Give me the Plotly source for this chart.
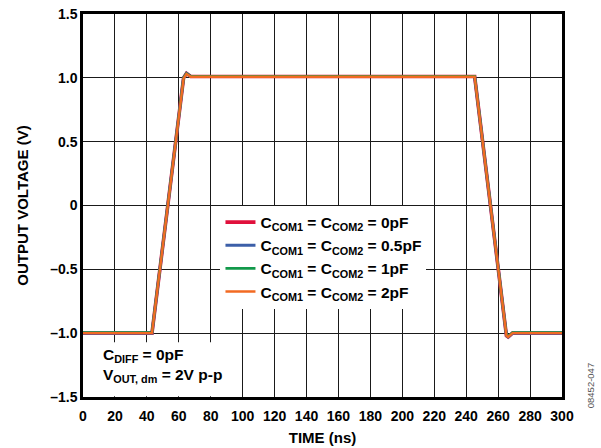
import plotly.graph_objects as go

# time axis (ns) and output voltage (V) for each common-mode capacitance
time_ns = [0, 43.2, 63.0, 64.8, 67.5, 120, 180, 245.3, 265.2, 266.3, 269.0, 300]
v_0pF = [-1.0, -1.0, 1.0, 1.035, 1.01, 1.01, 1.01, 1.01, -1.02, -1.03, -1.0, -1.0]
v_05pF = [-1.0, -1.0, 1.0, 1.034, 1.01, 1.01, 1.01, 1.01, -1.02, -1.03, -1.0, -1.0]
v_1pF = [-0.995, -0.995, 1.0, 1.033, 1.012, 1.012, 1.012, 1.012, -1.015, -1.025, -0.995, -0.995]
v_2pF = [-1.0, -1.0, 0.995, 1.03, 1.008, 1.008, 1.008, 1.008, -1.02, -1.03, -1.0, -1.0]

def sub(s):
    return '<sub>' + s + '</sub>'

series = [
    ('C' + sub('COM1') + ' = C' + sub('COM2') + ' = 0pF', v_0pF, '#e0103c', 3.6),
    ('C' + sub('COM1') + ' = C' + sub('COM2') + ' = 0.5pF', v_05pF, '#3c5fa8', 3.0),
    ('C' + sub('COM1') + ' = C' + sub('COM2') + ' = 1pF', v_1pF, '#12994a', 2.6),
    ('C' + sub('COM1') + ' = C' + sub('COM2') + ' = 2pF', v_2pF, '#f26a22', 2.4),
]

y_ticks = [-1.5, -1.0, -0.5, 0, 0.5, 1.0, 1.5]
y_labels = ['–1.5', '–1.0', '–0.5', '0', '0.5', '1.0', '1.5']
x_ticks = list(range(0, 301, 20))

font = 'Liberation Sans, Arial, sans-serif'

fig = go.Figure()
for name, v, col, w in series:
    fig.add_trace(go.Scatter(x=time_ns, y=v, mode='lines', name=name,
                             line=dict(color=col, width=w)))

# white box behind the condition text
fig.add_shape(type='rect', xref='paper', yref='paper', x0=0.002, x1=0.328,
              y0=0.002, y1=0.143, fillcolor='white', line=dict(width=0), layer='above')
fig.add_annotation(x=0.038, y=0.082, xref='paper', yref='paper', xanchor='left', yanchor='middle',
                   text='C' + sub('DIFF') + ' = 0pF<br>V' + sub('OUT, dm') + ' = 2V p-p',
                   showarrow=False, align='left',
                   font=dict(family=font, size=15.5, color='black', weight='bold'))

fig.add_annotation(x=1.06, y=0.03, xref='paper', yref='paper', xanchor='center', yanchor='middle',
                   text='08452-047', textangle=-90, showarrow=False,
                   font=dict(family=font, size=9.5, color='#555555'))

axis_common = dict(showgrid=True, gridcolor='#1a1a1a', gridwidth=1.3,
                   showline=True, linecolor='black', linewidth=2.5, mirror=True,
                   ticks='', zeroline=False, automargin=False,
                   tickfont=dict(family=font, size=14, color='black', weight='bold'))

fig.update_xaxes(range=[0, 300], tickvals=x_ticks, ticklabelstandoff=4,
                 title=dict(text='TIME (ns)', standoff=10,
                            font=dict(family=font, size=15, color='black', weight='bold')),
                 **axis_common)
fig.update_yaxes(range=[-1.5, 1.5], tickvals=y_ticks, ticktext=y_labels,
                 title=dict(text='OUTPUT VOLTAGE (V)', standoff=18,
                            font=dict(family=font, size=15, color='black', weight='bold')),
                 **axis_common)

fig.update_layout(
    width=601, height=448,
    paper_bgcolor='white',
    plot_bgcolor='white',
    margin=dict(l=83, r=39, t=14, b=51),
    showlegend=True,
    legend=dict(x=0.287, y=0.5, xanchor='left', yanchor='top',
                bgcolor='white', borderwidth=0, tracegroupgap=0,
                font=dict(family=font, size=15.5, color='black', weight='bold')),
)

fig.write_html('out.html', config={'displayModeBar': False},
               post_script="document.body.style.margin='0';")
